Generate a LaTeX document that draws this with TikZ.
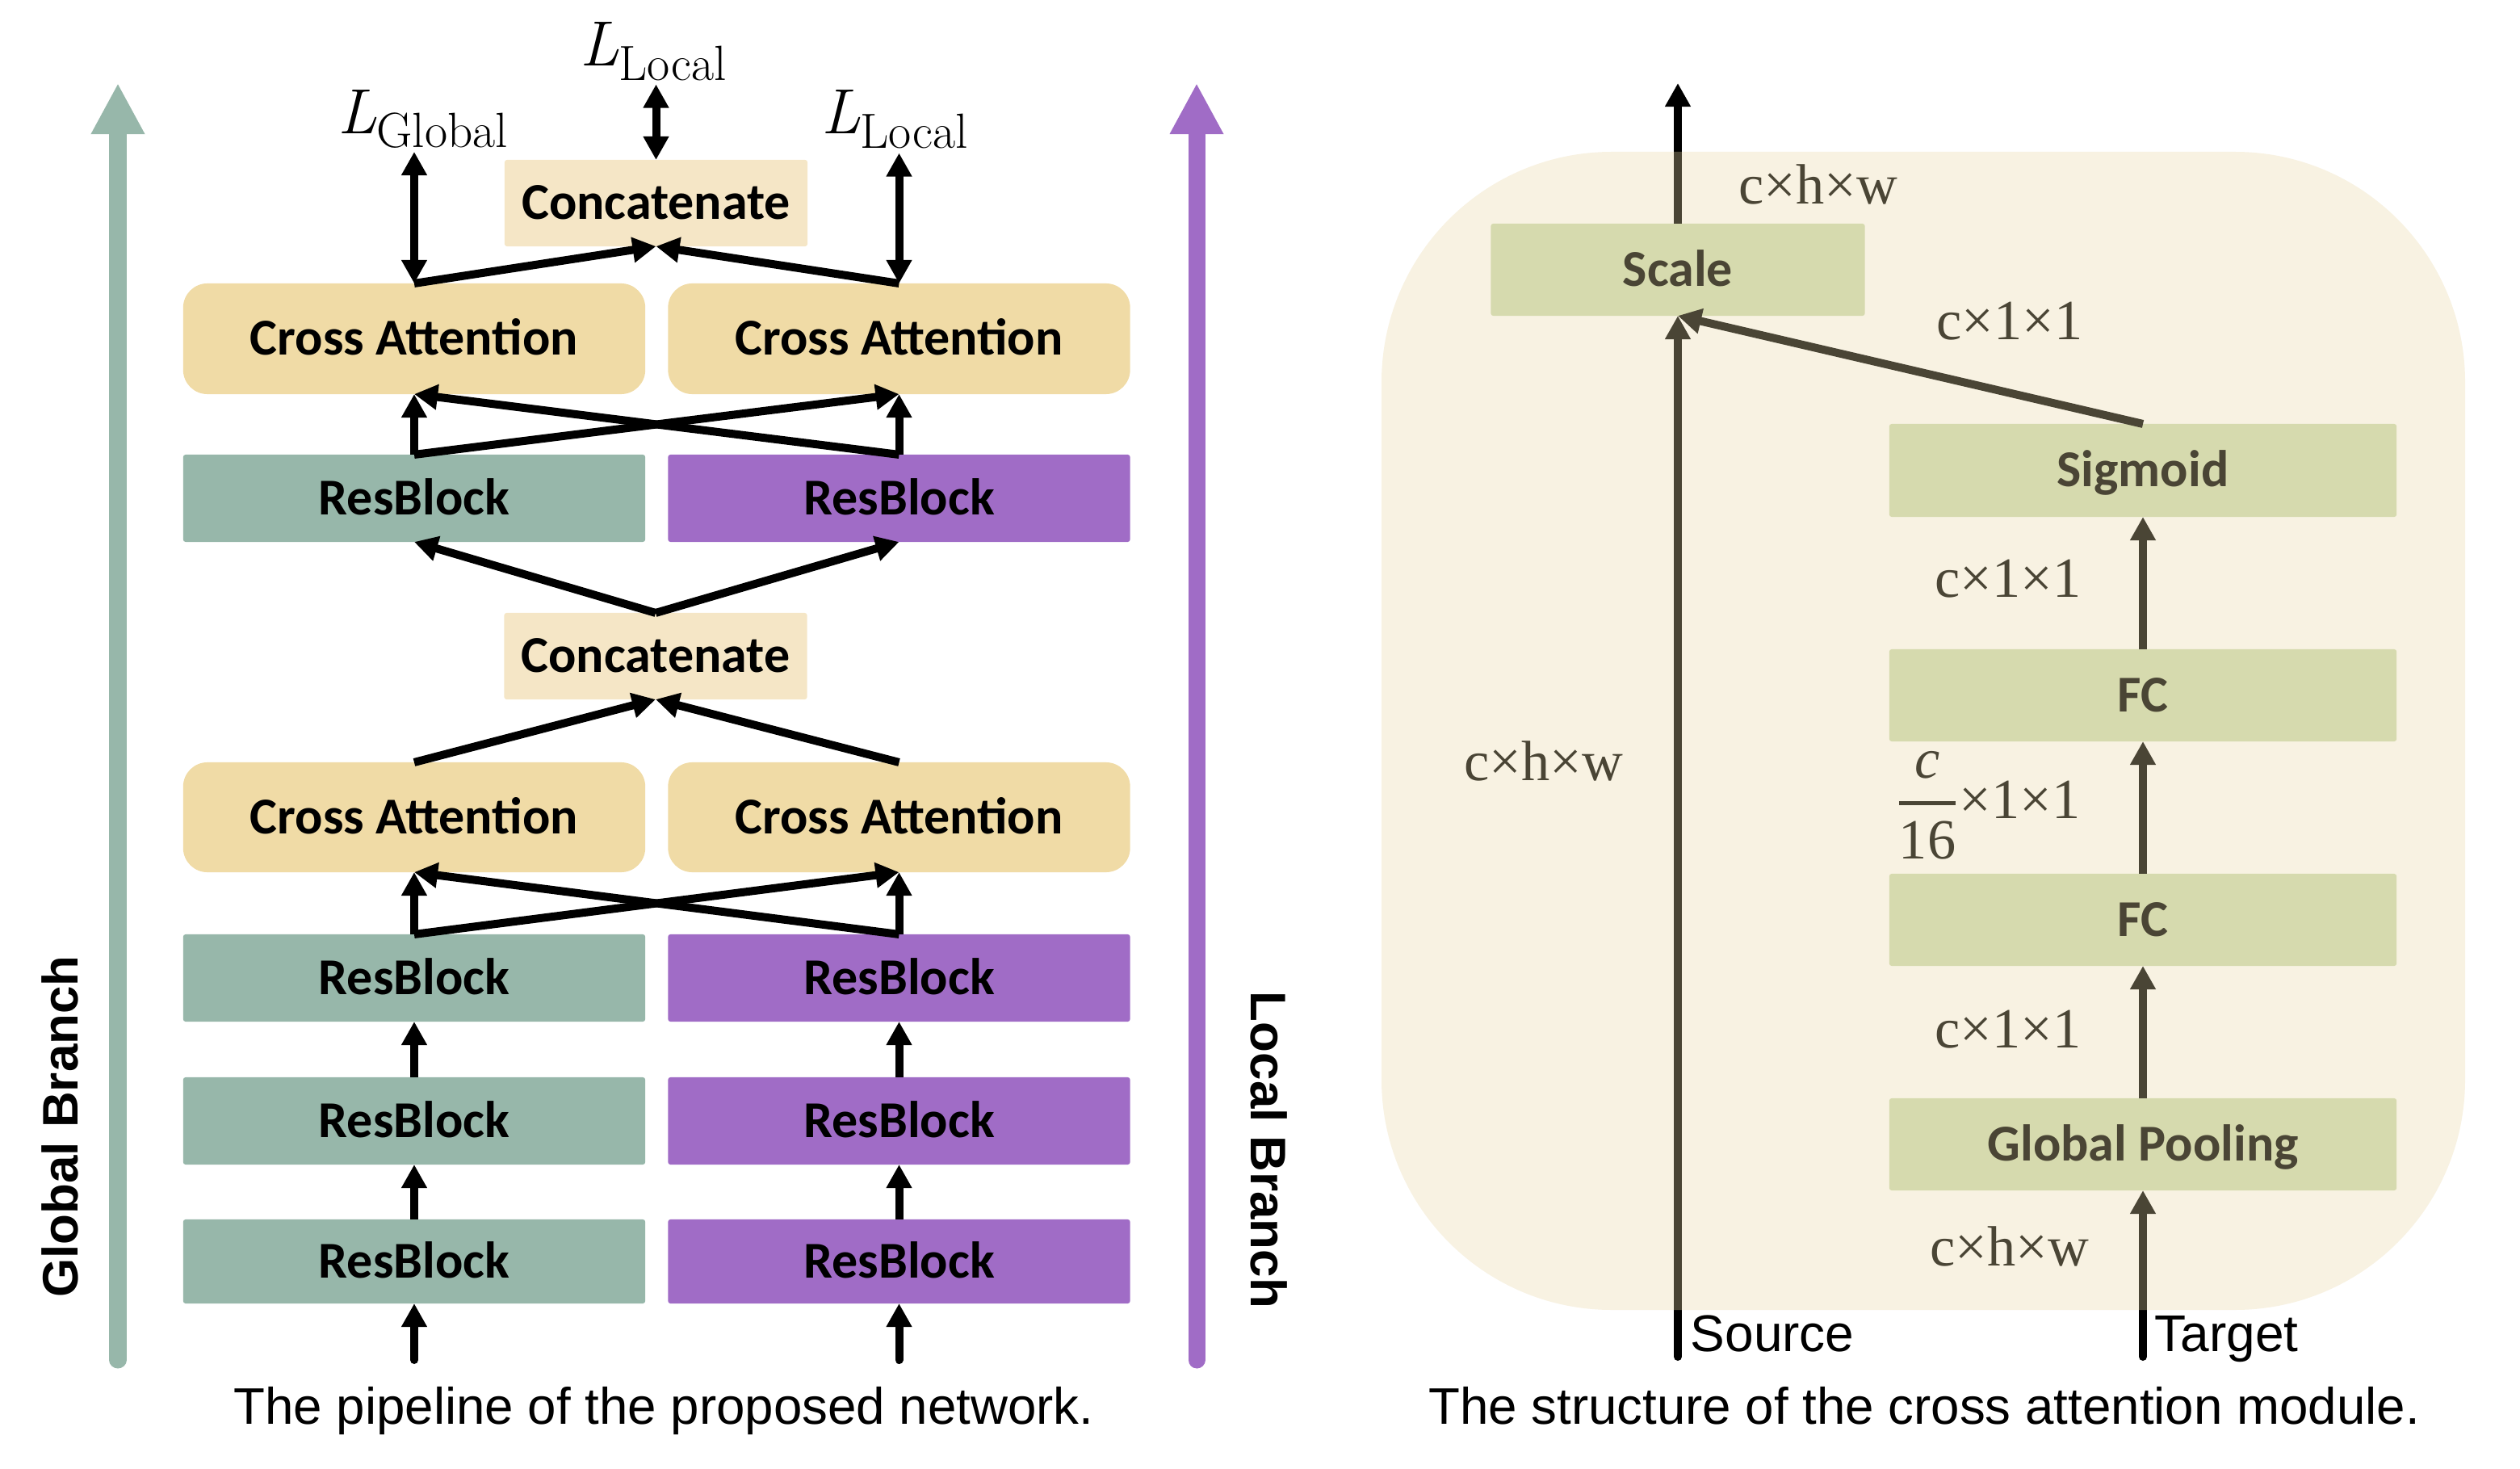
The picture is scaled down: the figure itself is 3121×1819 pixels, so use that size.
\documentclass[tikz,border=0pt]{standalone}
\usepackage{fontspec}
\usepackage{amsmath}
\usetikzlibrary{arrows.meta}
\newfontfamily\carlitofont{Carlito}
\newfontfamily\lsans{Liberation Sans}
\newfontfamily\lserif{Liberation Serif}
\definecolor{gbr}{HTML}{97B7AA}
\definecolor{lbr}{HTML}{A06CC6}
\definecolor{cafill}{HTML}{F0DBA6}
\definecolor{catfill}{HTML}{F5E6C6}
\definecolor{modbox}{HTML}{C9D6AD}
\definecolor{modbase}{HTML}{F9F8F8}
\definecolor{modtint}{HTML}{F7E6B1}
\tikzset{
 blk/.style={inner sep=0pt, outer sep=0pt, minimum width=5.72cm, minimum height=1.08cm, rounded corners=0.03cm, text height=0.40cm, text depth=0pt, font=\carlitofont\bfseries\fontsize{18.2}{21}\selectfont},
 gblk/.style={blk, fill=gbr},
 pblk/.style={blk, fill=lbr},
 cablk/.style={blk, fill=cafill, minimum height=1.37cm, rounded corners=0.3cm},
 catblk/.style={blk, fill=catfill, minimum width=3.75cm, minimum height=1.07cm},
 mblk/.style={blk, fill=modbox, minimum width=6.28cm, minimum height=1.14cm},
 arr/.style={line width=0.1cm, -{Triangle[length=0.29cm,width=0.30cm]}},
 dblarr/.style={line width=0.1cm, {Triangle[length=0.29cm,width=0.30cm]}-{Triangle[length=0.29cm,width=0.30cm]}},
 bigarr/.style={line width=0.21cm, line cap=round, -{Triangle[length=0.63cm,width=0.62cm]}},
 lossl/.style={inner sep=0pt, outer sep=0.05cm, anchor=base west, font=\fontsize{22.5}{27}\selectfont},
 dimlbl/.style={inner sep=0pt, anchor=base west, font=\lserif\fontsize{20}{24}\selectfont},
 capt/.style={inner sep=0pt, anchor=base, font=\lsans\fontsize{18.1}{22}\selectfont},
 endlbl/.style={inner sep=0pt, anchor=base west, font=\lsans\fontsize{18.2}{22}\selectfont},
 brl/.style={inner sep=0pt, anchor=base, font=\lsans\bfseries\fontsize{17.6}{21}\selectfont},
}
\begin{document}
\begin{tikzpicture}[x=0.01cm, y=-0.01cm]
\useasboundingbox (0,0) rectangle (3121,1819);

% ---------- left panel ----------
\coordinate (gbot) at (146,1684);
\coordinate (gtop) at (146,103);
\draw[bigarr, gbr] (gbot) -- (gtop);
\coordinate (lbot) at (1482,1684);
\coordinate (ltop) at (1482,103);
\draw[bigarr, lbr] (lbot) -- (ltop);
\node[brl, rotate=90] (gbt) at (96,1395) {Global Branch};
\node[brl, rotate=-90] (lbt) at (1549,1424) {Local Branch};

\node[catblk] (cat1) at (812.5,251.5) {Concatenate};
\node[cablk] (caL) at (513,419.5) {Cross Attention};
\node[cablk] (caR) at (1113.5,419.5) {Cross Attention};
\node[gblk] (rb1L) at (513,617) {ResBlock};
\node[pblk] (rb1R) at (1113.5,617) {ResBlock};
\node[catblk] (cat2) at (812,812.5) {Concatenate};
\node[cablk, minimum height=1.36cm] (ca2L) at (513,1012) {Cross Attention};
\node[cablk, minimum height=1.36cm] (ca2R) at (1113.5,1012) {Cross Attention};
\node[gblk] (rb2L) at (513,1211) {ResBlock};
\node[pblk] (rb2R) at (1113.5,1211) {ResBlock};
\node[gblk] (rb3L) at (513,1388) {ResBlock};
\node[pblk] (rb3R) at (1113.5,1388) {ResBlock};
\node[gblk, minimum height=1.04cm] (rb4L) at (513,1562) {ResBlock};
\node[pblk, minimum height=1.04cm] (rb4R) at (1113.5,1562) {ResBlock};

\node[lossl] (lg) at (413,166) {\textit{L}\raisebox{-0.16cm}{\fontsize{17.4}{20}\selectfont Global}};
\node[lossl] (lt) at (713,82) {\textit{L}\raisebox{-0.17cm}{\fontsize{17.4}{20}\selectfont Local}};
\node[lossl] (lr) at (1012,166) {\textit{L}\raisebox{-0.18cm}{\fontsize{17.4}{20}\selectfont Local}};

\draw[dblarr] (lg.south -| caL.north) -- (caL.north);
\draw[dblarr] (lt.south -| cat1.north) -- (cat1.north);
\draw[dblarr] (lr.south -| caR.north) -- (caR.north);
\draw[arr] (caL.north) -- (cat1.south);
\draw[arr] (caR.north) -- (cat1.south);
\draw[arr] (rb1L.north) -- (caL.south);
\draw[arr] (rb1L.north) -- (caR.south);
\draw[arr] (rb1R.north) -- (caR.south);
\draw[arr] (rb1R.north) -- (caL.south);
\draw[arr] (cat2.north) -- (rb1L.south);
\draw[arr] (cat2.north) -- (rb1R.south);
\draw[arr] (ca2L.north) -- (cat2.south);
\draw[arr] (ca2R.north) -- (cat2.south);
\draw[arr] (rb2L.north) -- (ca2L.south);
\draw[arr] (rb2L.north) -- (ca2R.south);
\draw[arr] (rb2R.north) -- (ca2R.south);
\draw[arr] (rb2R.north) -- (ca2L.south);
\draw[arr] (rb3L.north) -- (rb2L.south);
\draw[arr] (rb3R.north) -- (rb2R.south);
\draw[arr] (rb4L.north) -- (rb3L.south);
\draw[arr] (rb4R.north) -- (rb3R.south);
\coordinate (inL) at (513,1684);
\coordinate (inR) at (1113.5,1684);
\draw[arr, line cap=round] (inL) -- (rb4L.south);
\draw[arr, line cap=round] (inR) -- (rb4R.south);

\node[capt] (capL) at (822,1763) {The pipeline of the proposed network.};

% ---------- right panel ----------
\fill[modbase, rounded corners=2.85cm] (1711,188) rectangle (3053,1622);
\node[mblk, minimum width=4.63cm] (scale) at (2078,334) {Scale};
\node[mblk, minimum height=1.15cm] (sig) at (2654,582.5) {Sigmoid};
\node[mblk] (fc1) at (2654,861) {FC};
\node[mblk] (fc2) at (2654,1139) {FC};
\node[mblk] (gp) at (2654,1417) {Global Pooling};

\coordinate (outT) at (2078,103);
\draw[arr] (scale.north) -- (outT);
\coordinate (srcB) at (2078,1680);
\draw[arr, line cap=round] (srcB) -- (scale.south);
\draw[arr] (sig.north) -- (scale.south);
\draw[arr] (fc1.north) -- (sig.south);
\draw[arr] (fc2.north) -- (fc1.south);
\draw[arr] (gp.north) -- (fc2.south);
\coordinate (tgtB) at (2654,1680);
\draw[arr, line cap=round] (tgtB) -- (gp.south);

\node[dimlbl] (d1) at (2153,253) {c×h×w};
\node[dimlbl] (d2) at (2398,421) {c×1×1};
\node[dimlbl] (d3) at (2396,740) {c×1×1};
\node[dimlbl] (d4) at (2347,1013) {$\genfrac{}{}{1.4pt}{0}{\text{\itshape c}}{\text{16}}$×1×1};
\node[dimlbl] (d5) at (2396,1297) {c×1×1};
\node[dimlbl] (d6) at (2390,1567) {c×h×w};
\node[dimlbl] (d7) at (1813,966) {c×h×w};

\fill[modtint, fill opacity=0.3, rounded corners=2.85cm] (1711,188) rectangle (3053,1622);

\node[endlbl] (src) at (2093,1673) {Source};
\node[endlbl] (tgt) at (2668,1673) {Target};
\node[capt] (capR) at (2383,1763) {The structure of the cross attention module.};
\end{tikzpicture}
\end{document}
